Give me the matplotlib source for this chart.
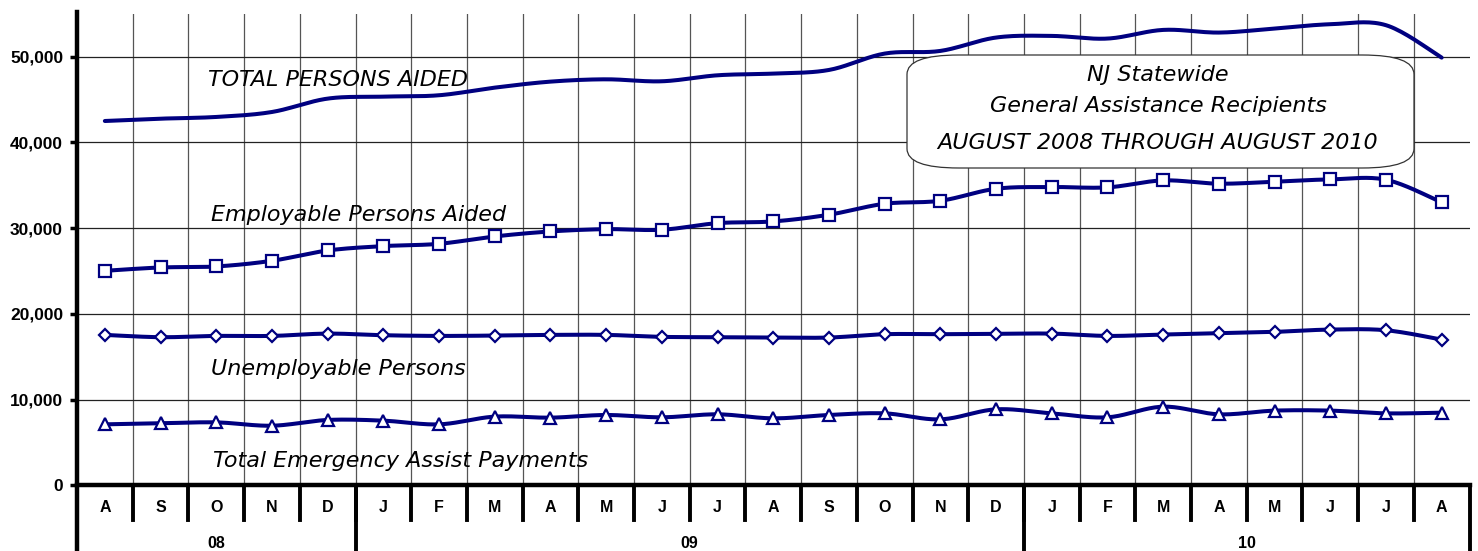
import numpy as np
import matplotlib
matplotlib.use("Agg")
import matplotlib.pyplot as plt
from matplotlib.patches import FancyBboxPatch
from matplotlib.transforms import blended_transform_factory

months = ["A", "S", "O", "N", "D", "J", "F", "M", "A", "M", "J", "J", "A",
          "S", "O", "N", "D", "J", "F", "M", "A", "M", "J", "J", "A"]
years = ["08", "09", "10"]
year_bounds = [0, 5, 17, 25]  # month index where each year starts / ends

total_aided = [42490, 42760, 42960, 43540, 45100, 45330, 45490, 46380, 47080,
               47350, 47120, 47820, 48020, 48440, 50350, 50660, 52220, 52410,
               52100, 53110, 52800, 53270, 53770, 53660, 49880]
employable = [25020, 25410, 25530, 26190, 27390, 27900, 28170, 29030, 29610,
              29880, 29810, 30580, 30780, 31560, 32840, 33190, 34590, 34790,
              34750, 35560, 35180, 35410, 35680, 35640, 33000]
unemployable = [17550, 17280, 17430, 17430, 17700, 17510, 17430, 17470, 17550,
                17550, 17320, 17280, 17240, 17240, 17630, 17630, 17670, 17700,
                17430, 17590, 17740, 17900, 18170, 18090, 17000]
emergency = [7120, 7240, 7350, 6960, 7630, 7550, 7120, 8020, 7900,
             8210, 7940, 8290, 7820, 8210, 8400, 7700, 8870, 8400,
             7940, 9180, 8290, 8720, 8720, 8400, 8480]

NAVY = "#000080"


def smooth(x, y, n=20):
    # bezier smoothing through every point, like the spreadsheet "smoothed line"
    pts = np.column_stack([x, y]).astype(float)
    P = np.vstack([pts[0], pts, pts[-1]])
    t = np.linspace(0, 1, n, endpoint=False)[:, None]
    out = []
    for i in range(1, len(P) - 2):
        p0, p1, p2, p3 = P[i - 1], P[i], P[i + 1], P[i + 2]
        c1 = p1 + (p2 - p0) / 6
        c2 = p2 - (p3 - p1) / 6
        out.append((1 - t) ** 3 * p1 + 3 * (1 - t) ** 2 * t * c1
                   + 3 * (1 - t) * t ** 2 * c2 + t ** 3 * p2)
    out.append(pts[-1:])
    seg = np.vstack(out)
    return seg[:, 0], seg[:, 1]


fig = plt.figure(figsize=(14.78, 5.51), dpi=100)
ax = fig.add_axes([77 / 1478, 65.6 / 551, 1392.5 / 1478, 471.7 / 551])

x = np.arange(len(months))
ax.set_xlim(-0.5, len(months) - 0.5)
ax.set_ylim(0, 55000)

# grid
for b in np.arange(0.5, len(months) - 0.5, 1):
    ax.axvline(b, color="#555555", lw=0.9, zorder=1)
for v in range(10000, 60000, 10000):
    ax.axhline(v, color="#222222", lw=0.9, zorder=1)

series = [(total_aided, None, 0), (employable, "s", 8.5),
          (unemployable, "D", 6.5), (emergency, "^", 8.5)]
for vals, mk, ms in series:
    sx, sy = smooth(x, vals)
    ax.plot(sx, sy, color=NAVY, lw=2.9, zorder=3, solid_capstyle="round")
    if mk:
        ax.plot(x, vals, ls="none", marker=mk, ms=ms, mfc="white",
                mec=NAVY, mew=1.6, zorder=4)

# axes look
for s in ["top", "right", "bottom", "left"]:
    ax.spines[s].set_visible(False)
ax.set_xticks([])
ax.set_yticks(range(0, 60000, 10000))
ax.set_yticklabels([f"{v:,}" for v in range(0, 60000, 10000)],
                   fontfamily="Liberation Sans", fontweight="bold", fontsize=12.5)
ax.tick_params(axis="y", length=5, width=2.5, pad=5)

trans = blended_transform_factory(ax.transData, fig.transFigure)
ax.plot([-0.5, len(months) - 0.5], [65.6 / 551] * 2, color="black", lw=3.2,
        transform=trans, clip_on=False, zorder=5)
ax.plot([-0.5, -0.5], [0, 539 / 551], color="black", lw=3.2,
        transform=trans, clip_on=False, zorder=5)
for b in np.arange(0.5, len(months) - 0.5, 1):
    ax.plot([b, b], [31 / 551, 65.6 / 551], color="black", lw=2.8,
            transform=trans, clip_on=False)
for yb in year_bounds[1:]:
    ax.plot([yb - 0.5, yb - 0.5], [0, 65.6 / 551], color="black", lw=2.8,
            transform=trans, clip_on=False)

for i, m in enumerate(months):
    ax.text(i, 43 / 551, m, transform=trans, ha="center", va="center",
            fontfamily="Liberation Sans", fontweight="bold", fontsize=11.5)
for k, yr in enumerate(years):
    mid = (year_bounds[k] + year_bounds[k + 1]) / 2 - 0.5
    ax.text(mid, 7 / 551, yr, transform=trans, ha="center", va="center",
            fontfamily="Liberation Sans", fontweight="bold", fontsize=11.5)

# series labels
lab = dict(fontfamily="DejaVu Sans", style="italic", fontsize=16,
           ha="left", va="center", zorder=6)
ax.text(1.85, 47300, "TOTAL PERSONS AIDED", **lab)
ax.text(1.9, 31500, "Employable Persons Aided", **lab)
ax.text(1.9, 13600, "Unemployable Persons", **lab)
ax.text(1.95, 2900, "Total Emergency Assist Payments", **lab)

# title box
box = FancyBboxPatch((907 / 1478, (551 - 168) / 551), 507 / 1478, 113 / 551,
                     boxstyle="round,pad=0,rounding_size=0.035",
                     transform=fig.transFigure, facecolor="white",
                     edgecolor="#333333", lw=0.9, zorder=7)
fig.patches.append(box)
for txt, yy in [("NJ Statewide", 75), ("General Assistance Recipients", 106),
                ("AUGUST 2008 THROUGH AUGUST 2010", 143)]:
    fig.text(1158 / 1478, (551 - yy) / 551, txt, fontfamily="DejaVu Sans",
             style="italic", fontsize=16, ha="center", va="center", zorder=8)

fig.savefig("out.png", dpi=100)
